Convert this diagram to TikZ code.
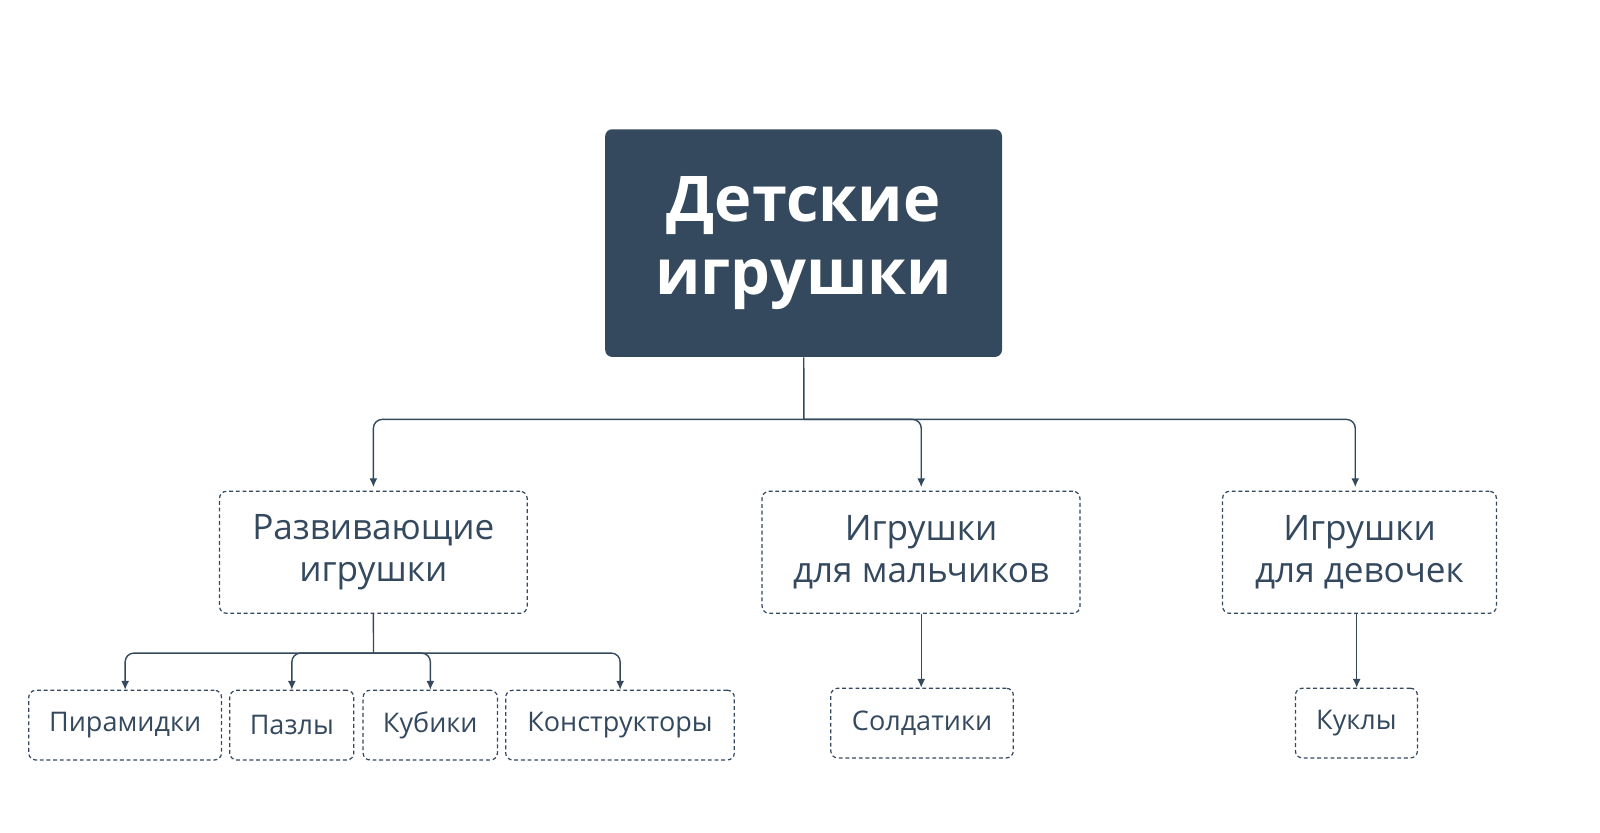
\documentclass[tikz,border=0pt]{standalone}
\usepackage{fontspec}
\setmainfont{Open Sans}
\usetikzlibrary{arrows.meta}
\definecolor{slate}{HTML}{34495E}
\tikzset{
  rootbox/.style={rectangle, fill=slate, rounded corners=4pt, text=white, font=\fontsize{35}{41}\selectfont\bfseries, align=center, inner sep=0pt},
  groupbox/.style={rectangle, draw=slate, line width=0.7pt, dash pattern=on 2.2pt off 1.6pt, rounded corners=4pt, text=slate, font=\fontsize{19.5}{23}\selectfont, align=center, inner sep=0pt, minimum height=2.38cm},
  leafbox/.style={rectangle, draw=slate, line width=0.7pt, dash pattern=on 2.2pt off 1.6pt, rounded corners=4pt, text=slate, font=\fontsize{15}{18}\selectfont, inner sep=0pt, minimum height=1.36cm},
  conn/.style={draw=slate, line width=0.8pt, rounded corners=5pt, -{Latex[length=5pt,width=4.5pt]}}
}
\begin{document}
\begin{tikzpicture}[x=0.02cm, y=-0.02cm, scale=1.0256, every node/.append style={transform shape}]
  \useasboundingbox (0,0) rectangle (1560,811.2);

  \node[rootbox, minimum width=7.74cm, minimum height=4.44cm] (root) at (783.5,237) {Детские\\игрушки};

  \node[groupbox, minimum width=6cm] (dev) at (364,538.5) {Развивающие\\игрушки};
  \node[groupbox, minimum width=6.2cm] (boys) at (898,538.5) {Игрушки\\для мальчиков};
  \node[groupbox, minimum width=5.34cm] (girls) at (1325.5,538.5) {Игрушки\\для девочек};

  \node[leafbox, minimum width=3.76cm] (pyr) at (122,707) {Пирамидки};
  \node[leafbox, minimum width=2.42cm] (puz) at (284.5,707) {Пазлы};
  \node[leafbox, minimum width=2.62cm] (cub) at (419.5,707) {Кубики};
  \node[leafbox, minimum width=4.46cm] (con) at (604.5,707) {Конструкторы};
  \node[leafbox, minimum width=3.56cm] (sol) at (899,705) {Солдатики};
  \node[leafbox, minimum width=2.38cm] (dol) at (1322.5,705) {Куклы};

  % bus lines
  \coordinate (topbus) at ([yshift=-59*0.0205cm]root.south);
  \coordinate (devbus) at ([yshift=-37*0.0205cm]dev.south);
  \draw[slate, line width=0.8pt] (root.south) -- (topbus);
  \draw[slate, line width=0.8pt] (dev.south) -- (devbus);

  \draw[conn] (topbus) -| ([yshift=2pt]dev.north);
  \draw[conn] (topbus) -| ([yshift=2pt]boys.north);
  \draw[conn] (topbus) -| ([xshift=-2.5, yshift=2pt]girls.north);

  \foreach \leaf in {pyr, puz, cub, con}
    \draw[conn] (devbus) -| (\leaf.north);
  \draw[conn] (boys.south) -- (boys.south |- sol.north);
  \draw[conn] (girls.south -| dol.north) -- (dol.north);
\end{tikzpicture}
\end{document}
